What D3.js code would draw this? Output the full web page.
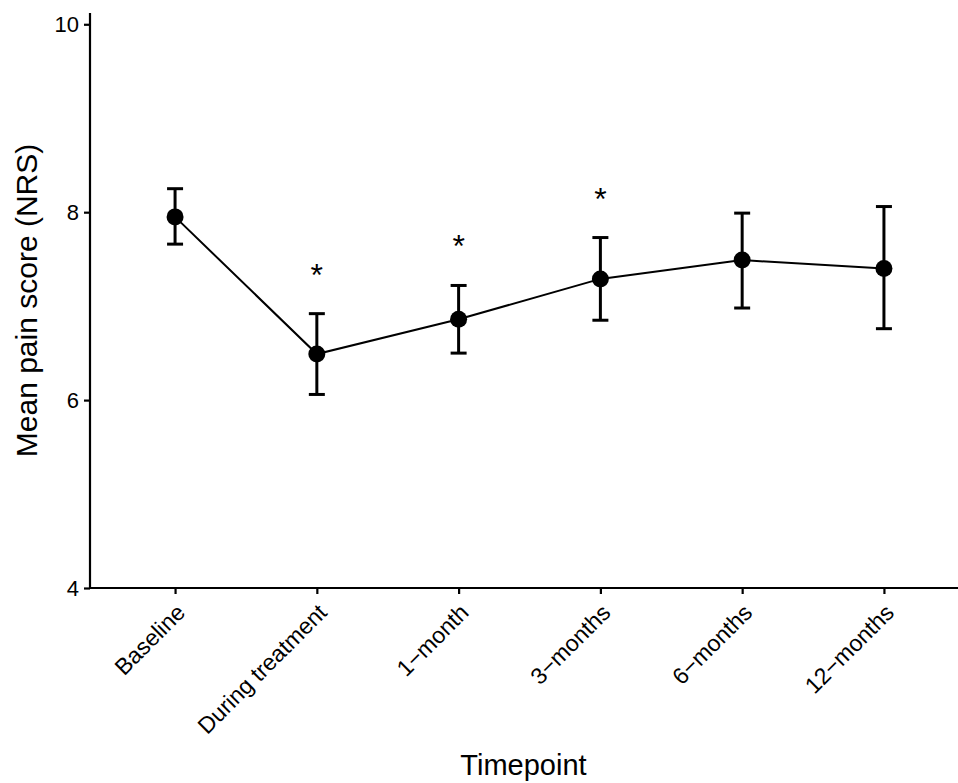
<!DOCTYPE html>
<html lang="en">
  <head>
    <meta charset="UTF-8" />
    <script src="https://d3js.org/d3.v7.min.js"></script>
    <style>
      body { margin: 0; background: #fff; }
      text { font-family: 'Liberation Sans', Arial, sans-serif; }
    </style>
  </head>
  <body>
    <div id="chart"></div>
    <script>
      // data
      const timepoints = ['Baseline', 'During treatment', '1\u2212month', '3\u2212months', '6\u2212months', '12\u2212months']
      const meanScore = [7.95, 6.49, 6.86, 7.29, 7.49, 7.40]
      const upperCI = [8.25, 6.92, 7.22, 7.73, 7.99, 8.06]
      const lowerCI = [7.66, 6.06, 6.50, 6.85, 6.98, 6.76]
      const significant = [false, true, true, true, false, false]
      const yTicks = [4, 6, 8, 10]

      const data = timepoints.map((t, i) => ({
        t,
        mean: meanScore[i],
        hi: upperCI[i],
        lo: lowerCI[i],
        sig: significant[i]
      }))

      const W = 958, H = 783
      const margin = { top: 13, right: -11, bottom: 195, left: 90 }
      const width = W - margin.left - margin.right
      const height = H - margin.top - margin.bottom

      const svg = d3.select('#chart').append('svg')
        .attr('width', W).attr('height', H)
      const g = svg.append('g')
        .attr('transform', `translate(${margin.left}, ${margin.top})`)

      const x = d3.scalePoint().domain(timepoints).range([0, width]).padding(0.6)
      const y = d3.scaleLinear().domain([4, 10.12]).range([height, 0])

      // y axis
      const yAxis = g.append('g')
        .call(d3.axisLeft(y).tickValues(yTicks).tickFormat(d3.format('d')).tickSize(6).tickPadding(5))
      yAxis.select('.domain').attr('d', `M0,0V${height}`)
      yAxis.selectAll('line, path').attr('stroke', '#000').attr('stroke-width', 2.2)
      yAxis.selectAll('text').attr('font-size', 22).attr('fill', '#000')

      // x axis
      const xAxis = g.append('g')
        .attr('transform', `translate(0, ${height})`)
        .call(d3.axisBottom(x).tickSize(6))
      xAxis.select('.domain').attr('d', `M0,0H${width}`)
      xAxis.selectAll('line, path').attr('stroke', '#000').attr('stroke-width', 2.2)
      xAxis.selectAll('text')
        .attr('font-size', 23)
        .attr('fill', '#000')
        .attr('text-anchor', 'end')
        .attr('x', 0).attr('y', 0).attr('dy', 0)
        .attr('transform', 'translate(11, 26) rotate(-45)')

      // connecting line
      g.append('path')
        .datum(data)
        .attr('fill', 'none')
        .attr('stroke', '#000')
        .attr('stroke-width', 2)
        .attr('d', d3.line().x(d => x(d.t)).y(d => y(d.mean)))

      // error bars
      const eb = g.append('g').selectAll('g').data(data).join('g')
        .attr('stroke', '#000').attr('stroke-width', 3)
      eb.append('line')
        .attr('x1', d => x(d.t)).attr('x2', d => x(d.t))
        .attr('y1', d => y(d.hi)).attr('y2', d => y(d.lo))
      eb.append('line')
        .attr('x1', d => x(d.t) - 8).attr('x2', d => x(d.t) + 8)
        .attr('y1', d => y(d.hi)).attr('y2', d => y(d.hi))
      eb.append('line')
        .attr('x1', d => x(d.t) - 8).attr('x2', d => x(d.t) + 8)
        .attr('y1', d => y(d.lo)).attr('y2', d => y(d.lo))

      // points
      g.append('g').selectAll('circle').data(data).join('circle')
        .attr('cx', d => x(d.t)).attr('cy', d => y(d.mean))
        .attr('r', 8.5).attr('fill', '#000')

      // significance markers
      g.append('g').selectAll('text').data(data.filter(d => d.sig)).join('text')
        .attr('x', d => x(d.t))
        .attr('y', d => y(d.hi) - 28)
        .attr('text-anchor', 'middle')
        .attr('font-size', 32)
        .text('*')

      // axis titles
      svg.append('text')
        .attr('transform', `translate(37, ${margin.top + height / 2}) rotate(-90)`)
        .attr('text-anchor', 'middle')
        .attr('font-size', 30)
        .text('Mean pain score (NRS)')
      svg.append('text')
        .attr('x', margin.left + width / 2 - 6)
        .attr('y', 775)
        .attr('text-anchor', 'middle')
        .attr('font-size', 29)
        .text('Timepoint')
    </script>
  </body>
</html>
